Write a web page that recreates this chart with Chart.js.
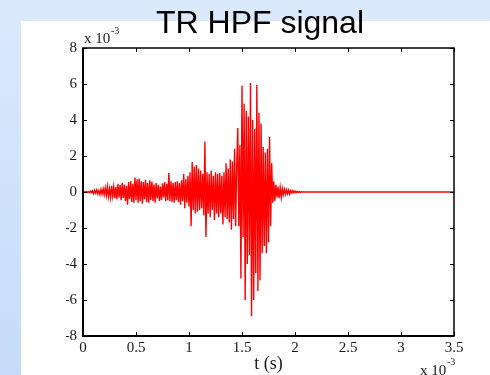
<!DOCTYPE html>
<html>
<head>
<meta charset="utf-8">
<title>TR HPF signal</title>
<script src="https://cdn.jsdelivr.net/npm/chart.js@4.4.0/dist/chart.umd.min.js"></script>
<style>
  html, body { margin: 0; padding: 0; }
  body {
    width: 490px; height: 375px; position: relative; overflow: hidden;
    background: linear-gradient(to bottom, #dbe9fc, #c4dcf9);
  }
  #panel { position: absolute; left: 21px; top: 21px; width: 469px; height: 354px; background: #fff; }
  #chart { position: absolute; left: 0; top: 0; }
</style>
</head>
<body>
<div id="panel"></div>
<canvas id="chart" width="490" height="375"></canvas>
<script>
// time axis in ms (x 10^-3 s), amplitude in units of 10^-3
const sampleStep = 0.01;

// 0.00 - 0.49 ms
const onset = [
  0, 0.02, -0.02, 0.03, -0.03, 0.02, -0.04, 0.05, -0.04, 0.06,
  -0.08, 0.1, -0.06, 0.12, -0.1, 0.08, -0.15, 0.14, -0.12, 0.18,
  -0.15, 0.22, -0.2, 0.3, -0.25, 0.18, -0.3, 0.35, -0.22, 0.3,
  -0.35, 0.28, -0.4, 0.45, -0.3, 0.38, -0.45, 0.5, -0.33, 0.42,
  -0.5, 0.35, -0.7, 0.55, -0.4, 0.6, -0.55, 0.45, -0.6, 0.8
];
// 0.50 - 0.99 ms
const buildUp = [
  -0.45, 0.7, -0.6, 0.75, -0.5, 0.6, -0.65, 0.55, -0.4, 0.68,
  -0.55, 0.5, -0.6, 0.65, -0.45, 0.58, -0.5, 0.42, -0.6, 0.5,
  -0.35, 0.4, -0.5, 0.3, -0.45, 0.48, -0.3, 0.55, -0.5, 0.45,
  -0.45, 1.05, -0.5, 0.6, -0.55, 0.5, -0.6, 0.55, -0.45, 0.6,
  -0.55, 0.5, -0.7, 0.65, -0.5, 1.0, -0.9, 0.7, -0.6, 0.9
];
// 1.00 - 1.49 ms
const rise = [
  -0.8, 1.1, -1.9, 1.67, -1.0, 1.4, -1.2, 1.5, -1.1, 1.3,
  -1.0, 1.2, -0.9, 1.0, -1.3, 2.8, -2.5, 1.1, -1.2, 1.0,
  -1.4, 1.2, -1.0, 0.9, -1.55, 1.1, -1.2, 1.0, -1.4, 1.05,
  -1.2, 0.9, -1.8, 1.1, -1.4, 1.6, -1.5, 1.3, -1.7, 1.8,
  -2.1, 1.7, -1.5, 2.4, -1.9, 1.4, 3.55, -1.9, 2.6, -4.8
];
// 1.50 - 1.79 ms
const burst = [
  5.9, -2.5, 4.9, -6.0, 4.5, -4.0, 4.2, -3.5, 6.05, -6.9,
  4.0, -6.0, 3.5, -4.5, 5.95, -5.5, 4.4, -4.9, 3.8, -3.4,
  2.5, -3.0, 2.2, -3.4, 2.4, -2.8, 3.05, -1.9, 1.6, -0.6
];
// 1.80 - 2.07 ms
const decay = [
  0.6, -0.5, 0.4, -0.3, 0.3, -0.35, 0.25, -0.3, 0.2, -0.15,
  0.15, -0.12, 0.12, -0.1, 0.1, -0.12, 0.08, -0.06, 0.07, -0.05,
  0.05, -0.04, 0.04, -0.03, 0.02, -0.02, 0.01, 0
];
const tailEnd = 3.5;

const xTicks = [0, 0.5, 1, 1.5, 2, 2.5, 3, 3.5];
const yTicks = [-8, -6, -4, -2, 0, 2, 4, 6, 8];

const signal = [...onset, ...buildUp, ...rise, ...burst, ...decay];
const points = signal.map((v, i) => ({ x: +(i * sampleStep).toFixed(2), y: v }));
points.push({ x: tailEnd, y: 0 });

const serif = '"Liberation Serif", "Times New Roman", serif';

// MATLAB-like box with inward ticks + exponent labels
const frame = {
  id: 'frame',
  afterDatasetsDraw(chart) {
    const { ctx, chartArea: a, scales: { x, y } } = chart;
    ctx.save();
    ctx.strokeStyle = '#000';
    ctx.lineWidth = 1;
    ctx.beginPath();
    xTicks.forEach(v => {
      const px = Math.round(x.getPixelForValue(v)) + 0.5;
      ctx.moveTo(px, a.bottom); ctx.lineTo(px, a.bottom - 4);
      ctx.moveTo(px, a.top); ctx.lineTo(px, a.top + 4);
    });
    yTicks.forEach(v => {
      const py = Math.round(y.getPixelForValue(v)) + 0.5;
      ctx.moveTo(a.left, py); ctx.lineTo(a.left + 4, py);
      ctx.moveTo(a.right, py); ctx.lineTo(a.right - 4, py);
    });
    ctx.stroke();
    ctx.lineWidth = 1.5;
    ctx.strokeRect(a.left, a.top, a.right - a.left, a.bottom - a.top);
    ctx.lineWidth = 2;
    ctx.beginPath();
    ctx.moveTo(a.left, a.top); ctx.lineTo(a.left, a.bottom); ctx.lineTo(a.right, a.bottom);
    ctx.stroke();

    ctx.fillStyle = '#1a1a1a';
    ctx.textAlign = 'left';
    ctx.textBaseline = 'alphabetic';
    ctx.font = '15px ' + serif;
    ctx.fillText('x 10', a.left + 1, a.top - 5);
    ctx.fillText('x 10', a.right - 34, 375);
    ctx.font = '10px ' + serif;
    ctx.fillText('-3', a.left + 28, a.top - 14);
    ctx.fillText('-3', a.right - 7, 365);
    ctx.restore();
  }
};

new Chart(document.getElementById('chart'), {
  type: 'line',
  data: {
    datasets: [{
      data: points,
      borderColor: '#ff0000',
      borderWidth: 1.4,
      pointRadius: 0,
      tension: 0,
      fill: false
    }]
  },
  options: {
    responsive: false,
    animation: false,
    layout: { padding: { left: 66, right: 36, top: 0, bottom: 0 } },
    plugins: {
      legend: { display: false },
      tooltip: { enabled: false },
      title: {
        display: true,
        text: 'TR HPF signal',
        color: '#000',
        font: { family: '"Liberation Sans", Arial, sans-serif', size: 32, weight: 'normal', lineHeight: 1.2 },
        padding: { top: 4.5, bottom: 5.1 }
      }
    },
    scales: {
      x: {
        type: 'linear',
        min: 0, max: 3.5,
        afterBuildTicks: s => { s.ticks = xTicks.map(v => ({ value: v })); },
        afterFit: s => { s.height = 39; },
        grid: { display: false, drawTicks: false },
        border: { display: false },
        ticks: {
          color: '#1a1a1a', padding: 3, maxRotation: 0, autoSkip: false,
          font: { family: serif, size: 15 },
          callback: v => String(v)
        },
        title: {
          display: true, text: 't (s)', color: '#1a1a1a',
          font: { family: serif, size: 18, lineHeight: 1 },
          padding: { top: 0, bottom: 2 }
        }
      },
      y: {
        min: -8, max: 8,
        afterBuildTicks: s => { s.ticks = yTicks.map(v => ({ value: v })); },
        afterFit: s => { s.width = 17; },
        grid: { display: false, drawTicks: false },
        border: { display: false },
        ticks: {
          color: '#1a1a1a', padding: 6, autoSkip: false,
          font: { family: serif, size: 15 },
          callback: v => String(v)
        }
      }
    }
  },
  plugins: [frame]
});
</script>
</body>
</html>
